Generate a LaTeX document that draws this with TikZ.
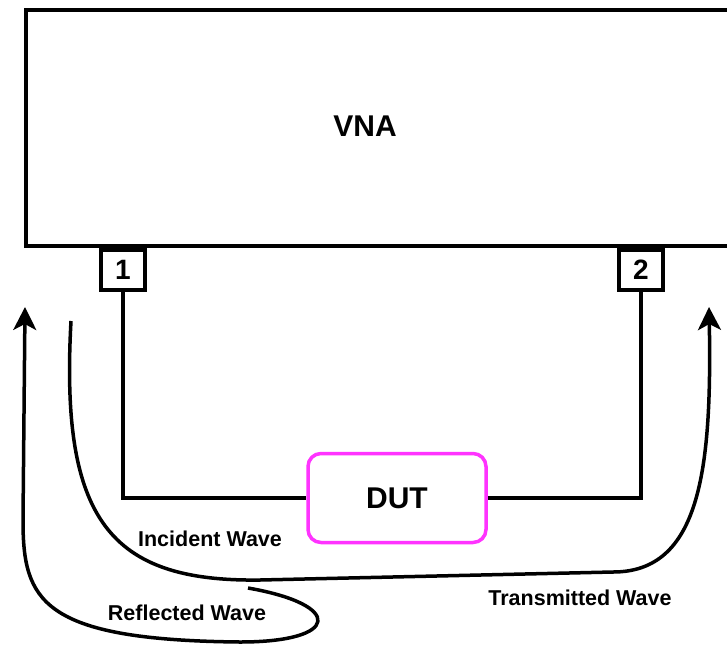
\documentclass[tikz,border=0pt]{standalone}
\usepackage{fontspec}
\setmainfont{Liberation Sans}
\usepackage{xcolor}
\usetikzlibrary{arrows.meta}
\definecolor{Ink}{HTML}{000000}
\definecolor{Magenta}{HTML}{FF33FF}
\tikzset{
  vnabox/.style={draw=Ink,line width=4pt,minimum width=774pt,minimum height=236pt,
              inner sep=0pt},
  portbox/.style={draw=Ink,line width=4pt,fill=white,minimum width=44pt,
              minimum height=40pt,inner sep=0pt,font=\fontsize{28}{30}\selectfont\bfseries},
  dutbox/.style={draw=Magenta,line width=3.5pt,rounded corners=13pt,fill=white,
              minimum width=178pt,minimum height=89pt,inner sep=0pt,
              font=\fontsize{30}{32}\selectfont\bfseries},
  title/.style={font=\fontsize{30}{32}\selectfont\bfseries},
  wire/.style={draw=Ink,line width=4pt},
  wave/.style={-{Stealth[length=23pt,width=23pt,inset=6pt]},draw=Ink,line width=3.5pt},
  note/.style={font=\fontsize{21.5}{24}\selectfont\bfseries}
}

\begin{document}
\begin{tikzpicture}[x=1pt,y=-1pt]
  \useasboundingbox (0,0) rectangle (727,645);
  \node[vnabox] (vna) at (413,128) {};
  \node[title] (vnalabel) at (365,126) {VNA};
  \node[portbox] (portone) at (123,270) {1};
  \node[portbox] (porttwo) at (641,270) {2};
  \node[dutbox] (dut) at (397,498) {DUT};
  \draw[wire] (portone) |- (dut);
  \draw[wire] (dut) -| (porttwo);
  % waves
  \coordinate (incfrom) at (71,321);
  \coordinate (incto) at (709,307);
  \coordinate (reffrom) at (248,588);
  \coordinate (refto) at (25,307);
  \draw[wave] (incfrom) .. controls (60,520) and (110,582) .. (260,580) -- (613,572)
    .. controls (700,572) and (712,470) .. (incto);
  \draw[wave] (reffrom) .. controls (345,605) and (340,642) .. (240,642)
    .. controls (40,640) and (23,600) .. (23,520) -- (refto);
  \node[note] (incident) at (210,539) {Incident Wave};
  \node[note] (reflected) at (187,613) {Reflected Wave};
  \node[note] (transmitted) at (580,598) {Transmitted Wave};
\end{tikzpicture}
\end{document}
